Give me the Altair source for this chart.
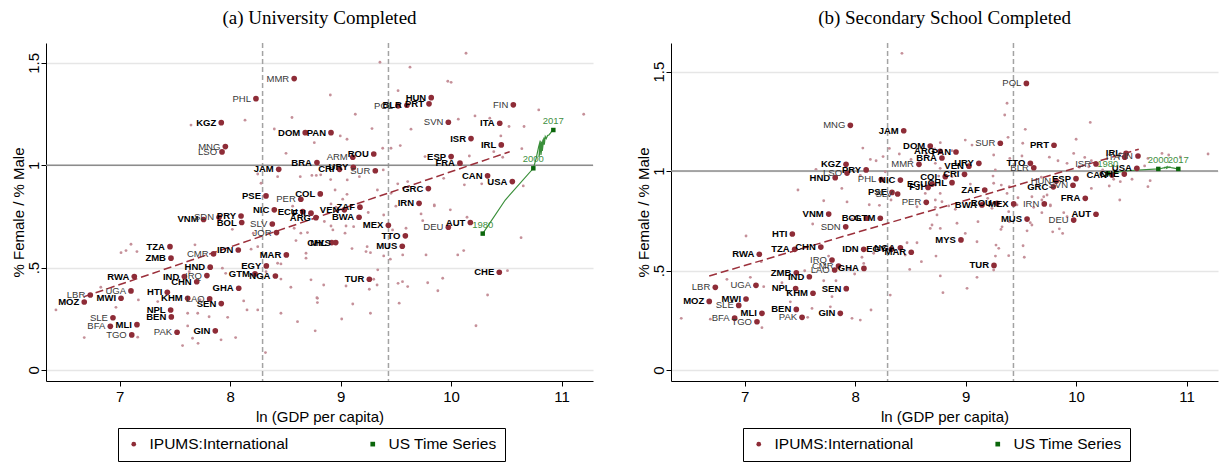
import altair as alt
import pandas as pd

# ---------------- shared values ----------------
x_ticks = [7, 8, 9, 10, 11]
y_ticks = [0, 0.5, 1, 1.5]
x_domain = [6.334, 11.284]
cutoffs = [8.294, 9.433]
parity = [1]
legend_names = ["IPUMS:International", "US Time Series"]
titles = ["(a) University Completed", "(b) Secondary School Completed"]

us_years = [1980, 1990, 2000, 2001, 2002, 2003, 2004, 2005, 2006, 2007, 2008,
            2009, 2010, 2011, 2012, 2013, 2014, 2015, 2016, 2017]
us_lngdp = [10.286, 10.49, 10.744, 10.768, 10.792, 10.807, 10.795, 10.819, 10.813,
            10.831, 10.825, 10.840, 10.843, 10.852, 10.861, 10.873, 10.885, 10.897,
            10.906, 10.925]
us_labeled_years = [1980, 2000, 2017]

# ---------------- panel (a): university ----------------
a_us_ratio = [0.666, 0.83, 0.985, 1.03, 1.09, 1.12, 1.04, 1.115, 1.05, 1.125, 1.07,
              1.135, 1.10, 1.14, 1.13, 1.145, 1.148, 1.155, 1.163, 1.172]
a_fit_x = [6.68, 10.53]
a_fit_y = [0.358, 1.066]
a_y_domain = [-0.054, 1.597]

a_countries = [
    ("MMR", 8.58, 1.423, "g"), ("PHL", 8.234, 1.325, "g"), ("KGZ", 7.92, 1.208, "b"),
    ("MNG", 7.957, 1.091, "g"), ("LSO", 7.927, 1.065, "g"), ("JAM", 8.44, 0.98, "b"),
    ("DOM", 8.68, 1.159, "b"), ("PAN", 8.913, 1.159, "b"), ("BRA", 8.786, 1.013, "b"),
    ("PSE", 8.325, 0.85, "b"), ("PER", 8.64, 0.834, "g"), ("COL", 8.816, 0.86, "b"),
    ("NIC", 8.40, 0.782, "b"), ("HUN", 9.82, 1.33, "b"), ("PRT", 9.80, 1.30, "b"),
    ("POL", 9.52, 1.29, "g"), ("BLR", 9.60, 1.293, "b"), ("FIN", 10.563, 1.295, "g"),
    ("SVN", 9.975, 1.21, "g"), ("ITA", 10.44, 1.205, "b"), ("ISR", 10.18, 1.13, "b"),
    ("IRL", 10.454, 1.099, "b"), ("ROU", 9.30, 1.055, "b"), ("ARM", 9.11, 1.039, "g"),
    ("URY", 9.115, 0.99, "b"), ("CRI", 8.99, 0.98, "b"), ("SUR", 9.314, 0.973, "g"),
    ("ESP", 10.0, 1.042, "b"), ("FRA", 10.08, 1.01, "b"), ("CAN", 10.33, 0.948, "b"),
    ("USA", 10.554, 0.92, "b"), ("GRC", 9.794, 0.886, "b"), ("IRN", 9.71, 0.814, "b"),
    ("ZAF", 9.175, 0.795, "b"), ("VEN", 9.034, 0.782, "b"), ("BWA", 9.167, 0.746, "b"),
    ("MEX", 9.432, 0.707, "b"), ("TTO", 9.586, 0.655, "b"), ("MUS", 9.558, 0.604, "b"),
    ("CHL", 8.92, 0.622, "b"), ("MYS", 8.956, 0.622, "b"), ("DEU", 9.975, 0.697, "g"),
    ("AUT", 10.174, 0.72, "b"), ("CHE", 10.436, 0.477, "b"), ("TUR", 9.26, 0.443, "b"),
    ("ECU", 8.657, 0.773, "b"), ("FJI", 8.732, 0.766, "b"), ("ARG", 8.777, 0.744, "b"),
    ("PRY", 8.099, 0.752, "b"), ("BOL", 8.105, 0.72, "b"), ("VNM", 7.76, 0.735, "b"),
    ("SDN", 7.90, 0.746, "g"), ("SLV", 8.382, 0.713, "g"), ("JOR", 8.42, 0.671, "g"),
    ("TZA", 7.456, 0.602, "b"), ("ZMB", 7.465, 0.546, "b"), ("CMR", 7.85, 0.567, "g"),
    ("IDN", 8.074, 0.586, "b"), ("MAR", 8.509, 0.562, "b"), ("EGY", 8.328, 0.508, "b"),
    ("HND", 7.82, 0.502, "b"), ("GTM", 8.225, 0.469, "b"), ("NGA", 8.41, 0.459, "b"),
    ("IND", 7.586, 0.456, "b"), ("IRQ", 7.79, 0.461, "g"), ("CHN", 7.698, 0.431, "b"),
    ("RWA", 7.133, 0.456, "b"), ("UGA", 7.103, 0.386, "g"), ("LBR", 6.735, 0.366, "g"),
    ("MOZ", 6.68, 0.332, "b"), ("MWI", 7.013, 0.35, "b"), ("HTI", 7.432, 0.379, "b"),
    ("KHM", 7.616, 0.35, "b"), ("LAO", 7.815, 0.347, "g"), ("GHA", 8.078, 0.399, "b"),
    ("SEN", 7.92, 0.324, "b"), ("NPL", 7.462, 0.293, "b"), ("BEN", 7.468, 0.259, "b"),
    ("SLE", 6.94, 0.255, "g"), ("BFA", 6.916, 0.213, "g"), ("MLI", 7.157, 0.221, "b"),
    ("TGO", 7.11, 0.171, "g"), ("PAK", 7.52, 0.184, "g"), ("GIN", 7.866, 0.191, "b"),
]

a_other = [
    (7.646, 1.196), (8.135, 1.22), (8.56, 1.233), (8.40, 1.177), (8.762, 1.11),
    (8.506, 1.058), (8.25, 0.957), (8.43, 0.944), (8.635, 0.944), (8.74, 0.95),
    (8.78, 0.95), (8.28, 0.912), (8.566, 0.80), (10.135, 1.547), (9.356, 1.503),
    (9.628, 1.479), (9.97, 1.41), (10.0, 1.405), (9.52, 1.364), (8.907, 1.343),
    (9.133, 1.249), (9.284, 1.179), (9.637, 1.176), (10.065, 1.225), (10.216, 1.241),
    (10.35, 1.23), (10.524, 1.189), (10.66, 1.189), (10.793, 1.27), (11.2, 1.249),
    (8.997, 1.143), (9.058, 1.127), (9.381, 1.083), (9.456, 1.083), (9.54, 1.096),
    (10.45, 1.143), (10.64, 1.081), (9.764, 1.042), (10.165, 1.045), (10.386, 1.066),
    (10.467, 1.039), (8.82, 0.953), (8.91, 0.93), (9.06, 0.928), (9.17, 0.944),
    (9.386, 0.977), (9.517, 0.909), (9.607, 0.92), (9.933, 0.936), (10.12, 0.904),
    (10.277, 0.909), (10.653, 0.899), (8.95, 0.879), (9.058, 0.858), (9.333, 0.879),
    (9.456, 0.863), (9.019, 0.834), (9.848, 0.806), (9.50, 0.80), (7.013, 0.573),
    (7.058, 0.583), (7.103, 0.614), (7.157, 0.578), (7.682, 0.611), (8.19, 0.59),
    (8.25, 0.602), (8.02, 0.687), (8.58, 0.692), (8.64, 0.668), (8.70, 0.671),
    (8.21, 0.668), (8.596, 0.632), (8.687, 0.57), (8.687, 0.546), (8.43, 0.521),
    (8.46, 0.518), (7.93, 0.497), (7.96, 0.472), (7.63, 0.48), (8.325, 0.48),
    (8.46, 0.444), (8.55, 0.404), (8.732, 0.44), (8.79, 0.35), (6.83, 0.404),
    (6.424, 0.293), (6.967, 0.306), (7.17, 0.342), (7.345, 0.334), (7.728, 0.342),
    (7.616, 0.277), (7.707, 0.277), (7.81, 0.26), (7.978, 0.257), (8.123, 0.337),
    (8.153, 0.293), (8.25, 0.293), (8.46, 0.277), (8.61, 0.236), (7.616, 0.215),
    (6.68, 0.158), (7.164, 0.16), (7.57, 0.119), (7.66, 0.155), (7.71, 0.13),
    (7.918, 0.147), (8.05, 0.158), (8.32, 0.085), (8.913, 0.811), (8.958, 0.795),
    (8.853, 0.725), (8.913, 0.703), (9.049, 0.703), (9.118, 0.70), (9.04, 0.668),
    (8.93, 0.684), (9.25, 0.769), (9.39, 0.757), (9.47, 0.684), (9.592, 0.692),
    (9.728, 0.762), (9.743, 0.729), (9.848, 0.801), (9.993, 0.782), (10.144, 0.746),
    (10.633, 0.646), (9.103, 0.593), (9.24, 0.602), (9.27, 0.573), (9.23, 0.578),
    (9.39, 0.557), (9.45, 0.541), (9.562, 0.562), (9.773, 0.562), (10.06, 0.562),
    (10.114, 0.583), (10.51, 0.485), (9.336, 0.489), (9.30, 0.443), (9.33, 0.415),
    (9.26, 0.394), (9.52, 0.423), (9.56, 0.431), (9.607, 0.407), (9.788, 0.426),
    (9.924, 0.448), (9.88, 0.387), (10.33, 0.366), (8.847, 0.415), (9.049, 0.41),
    (8.786, 0.353), (8.79, 0.329), (9.11, 0.322), (9.53, 0.326), (9.27, 0.277),
    (9.01, 0.249), (8.77, 0.191), (10.225, 0.216),
]

# ---------------- panel (b): secondary ----------------
b_us_ratio = [0.989, 1.003, 1.011, 1.013, 1.016, 1.02, 1.014, 1.021, 1.015, 1.022, 1.016,
              1.021, 1.018, 1.02, 1.017, 1.016, 1.015, 1.014, 1.012, 1.011]
b_fit_x = [6.68, 10.567]
b_fit_y = [0.473, 1.11]
b_y_domain = [-0.055, 1.644]

b_countries = [
    ("MNG", 7.957, 1.23, "g"), ("JAM", 8.44, 1.203, "b"), ("DOM", 8.68, 1.126, "b"),
    ("ARG", 8.77, 1.10, "b"), ("PAN", 8.913, 1.096, "b"), ("BRA", 8.786, 1.066, "b"),
    ("KGZ", 7.918, 1.034, "b"), ("LSO", 7.927, 0.99, "g"), ("PRY", 8.10, 1.006, "b"),
    ("HND", 7.82, 0.967, "b"), ("MMR", 8.578, 1.034, "g"), ("PHL", 8.237, 0.958, "g"),
    ("NIC", 8.41, 0.955, "b"), ("COL", 8.816, 0.972, "b"), ("ECU", 8.696, 0.935, "b"),
    ("CRI", 8.99, 0.984, "b"), ("FJI", 8.66, 0.918, "b"), ("CHL", 8.877, 0.942, "b"),
    ("PSE", 8.334, 0.893, "b"), ("SLV", 8.385, 0.885, "g"), ("PER", 8.644, 0.843, "g"),
    ("URY", 9.12, 1.039, "b"), ("VEN", 9.03, 1.025, "b"), ("SUR", 9.314, 1.14, "g"),
    ("POL", 9.55, 1.441, "g"), ("PRT", 9.80, 1.13, "b"), ("TTO", 9.586, 1.039, "b"),
    ("BLR", 9.617, 1.017, "g"), ("ISR", 10.18, 1.036, "g"), ("IRL", 10.452, 1.089, "b"),
    ("ITA", 10.44, 1.07, "g"), ("FIN", 10.56, 1.076, "g"), ("USA", 10.55, 1.014, "b"),
    ("CAN", 10.325, 0.98, "b"), ("CHE", 10.436, 0.985, "b"), ("ESP", 9.999, 0.962, "b"),
    ("HUN", 9.82, 0.95, "g"), ("GRC", 9.794, 0.921, "b"), ("SVN", 9.972, 0.929, "g"),
    ("FRA", 10.083, 0.863, "b"), ("IRN", 9.712, 0.835, "g"), ("MEX", 9.435, 0.835, "b"),
    ("ROU", 9.284, 0.838, "b"), ("BWA", 9.148, 0.83, "b"), ("ZAF", 9.173, 0.905, "b"),
    ("MUS", 9.556, 0.759, "b"), ("DEU", 9.978, 0.754, "g"), ("AUT", 10.18, 0.783, "b"),
    ("MYS", 8.958, 0.654, "b"), ("TUR", 9.257, 0.526, "b"), ("VNM", 7.761, 0.784, "b"),
    ("BOL", 8.105, 0.763, "b"), ("GTM", 8.228, 0.763, "b"), ("SDN", 7.915, 0.72, "g"),
    ("HTI", 7.432, 0.684, "b"), ("TZA", 7.453, 0.607, "b"), ("CHN", 7.69, 0.618, "b"),
    ("RWA", 7.133, 0.582, "b"), ("IDN", 8.078, 0.607, "b"), ("EGY", 8.328, 0.607, "b"),
    ("NGA", 8.41, 0.615, "b"), ("MAR", 8.508, 0.592, "b"), ("IRQ", 7.791, 0.553, "g"),
    ("CMR", 7.85, 0.523, "g"), ("LAO", 7.815, 0.503, "g"), ("GHA", 8.08, 0.511, "b"),
    ("ZMB", 7.468, 0.489, "b"), ("IND", 7.586, 0.469, "b"), ("LBR", 6.735, 0.416, "g"),
    ("UGA", 7.103, 0.426, "g"), ("NPL", 7.462, 0.41, "b"), ("KHM", 7.619, 0.386, "b"),
    ("SEN", 7.92, 0.409, "b"), ("MOZ", 6.68, 0.345, "b"), ("MWI", 7.013, 0.357, "b"),
    ("SLE", 6.947, 0.325, "g"), ("BEN", 7.468, 0.305, "b"), ("MLI", 7.157, 0.285, "b"),
    ("BFA", 6.91, 0.261, "g"), ("TGO", 7.112, 0.243, "g"), ("PAK", 7.52, 0.265, "g"),
    ("GIN", 7.866, 0.285, "b"),
]

b_other = [
    (8.424, 1.592), (8.07, 1.116), (8.31, 1.114), (8.40, 1.086), (8.138, 1.059),
    (8.19, 1.052), (8.253, 1.073), (8.506, 1.059), (8.642, 1.086), (7.646, 1.009),
    (8.047, 0.979), (8.273, 0.997), (7.483, 0.905), (7.88, 0.913), (7.716, 0.851),
    (7.927, 0.845), (8.128, 0.831), (8.22, 0.828), (8.325, 0.855), (8.635, 0.888),
    (8.56, 0.821), (8.771, 1.143), (8.726, 1.039), (8.77, 1.014), (8.77, 0.888),
    (9.375, 1.341), (9.354, 1.282), (9.54, 1.21), (10.128, 1.245), (9.384, 1.17),
    (9.517, 1.14), (10.0, 1.16), (8.997, 1.156), (9.058, 1.131), (8.877, 1.103),
    (8.72, 1.111), (9.254, 1.081), (9.40, 1.064), (9.51, 1.076), (9.758, 1.07),
    (9.836, 1.052), (10.114, 1.022), (9.269, 1.006), (9.248, 0.975), (8.877, 0.972),
    (8.757, 0.975), (8.726, 0.93), (9.043, 0.935), (9.097, 0.91), (9.254, 0.939),
    (9.323, 0.93), (9.395, 0.922), (9.474, 0.866), (9.655, 0.93), (9.737, 0.88),
    (9.69, 0.855), (9.24, 0.838), (9.2, 0.863), (8.786, 0.846), (8.726, 0.855),
    (10.395, 0.855), (10.65, 0.922), (10.67, 0.952), (10.506, 0.959), (10.34, 0.959),
    (10.536, 1.014), (10.62, 1.026), (10.65, 1.064), (10.777, 1.089), (10.838, 1.081),
    (10.943, 1.072), (11.194, 1.086), (9.978, 1.089), (10.078, 1.069), (9.918, 1.039),
    (10.138, 1.052), (10.03, 1.019), (10.24, 1.006), (10.4, 1.089), (10.4, 0.947),
    (10.3, 0.925), (10.138, 0.913), (9.685, 0.969), (9.767, 0.83), (9.707, 0.871),
    (9.6, 0.871), (9.616, 0.818), (9.69, 0.791), (9.888, 0.791), (9.918, 0.771),
    (9.375, 0.888), (9.465, 0.83), (8.726, 0.818), (8.847, 0.825), (8.907, 0.808),
    (9.239, 0.813), (9.39, 0.796), (9.767, 0.825), (8.741, 0.78), (8.922, 0.738),
    (9.112, 0.746), (8.771, 0.712), (8.997, 0.687), (9.33, 0.72), (9.32, 0.707),
    (9.395, 0.746), (9.6, 0.729), (9.585, 0.741), (9.556, 0.70), (9.788, 0.695),
    (9.848, 0.71), (9.878, 0.687), (9.103, 0.645), (9.275, 0.628), (9.3, 0.612),
    (9.52, 0.625), (8.732, 0.573), (9.27, 0.573), (9.39, 0.575), (9.531, 0.567),
    (9.254, 0.503), (8.771, 0.473), (9.103, 0.466), (8.795, 0.389), (9.013, 0.411),
    (7.013, 0.674), (7.616, 0.734), (7.972, 0.758), (7.151, 0.545), (7.173, 0.419),
    (6.84, 0.456), (7.052, 0.466), (7.338, 0.439), (7.544, 0.499), (7.76, 0.573),
    (7.827, 0.449), (7.716, 0.449), (7.951, 0.506), (8.062, 0.567), (8.078, 0.536),
    (7.996, 0.483), (8.168, 0.587), (8.25, 0.603), (8.47, 0.64), (8.56, 0.64),
    (8.454, 0.578), (8.6, 0.545), (8.68, 0.712), (8.696, 0.729), (8.494, 0.506),
    (8.318, 0.377), (8.144, 0.302), (7.791, 0.369), (7.776, 0.318), (7.972, 0.26),
    (8.047, 0.251), (7.61, 0.31), (7.571, 0.265), (7.414, 0.343), (6.427, 0.26),
    (6.69, 0.256), (7.157, 0.213),
]

# ---------------- styling ----------------
FONT = "Liberation Sans"
MAROON = "#8e2c37"
SMALL = "#c28a93"
FIT = "#9b2f3a"
GREEN_LINE = "#3a8f3a"
GREEN_SQ = "#0b660b"
GREEN_TXT = "#3f8f3f"
GREY_TXT = "#383838"


def panel(title, countries, others, fit_x, fit_y, us_ratio, y_domain):
    lab = pd.DataFrame(countries, columns=["code", "x", "y", "style"])
    lab["series"] = legend_names[0]
    sm = pd.DataFrame(others, columns=["x", "y"])
    fit = pd.DataFrame({"x": fit_x, "y": fit_y})
    us = pd.DataFrame({"year": us_years, "x": us_lngdp, "y": us_ratio})
    us["series"] = legend_names[1]
    us_pts = us[us["year"].isin(us_labeled_years)]

    xaxis = alt.Axis(values=x_ticks, format="d", title="ln (GDP per capita)", grid=False,
                     domainColor="black", tickColor="black", tickSize=5, labelFontSize=15,
                     titleFontSize=15, labelPadding=3, titlePadding=5)
    yaxis = alt.Axis(values=y_ticks, labelExpr="replace(format(datum.value, '~g'), '0.', '.')",
                     title="% Female / % Male", grid=True, gridColor="#e6e6e6", gridWidth=1.5,
                     domainColor="black", tickColor="black", tickSize=5, labelFontSize=15,
                     titleFontSize=15, labelAngle=270, labelAlign="center",
                     labelBaseline="bottom", labelPadding=0, titlePadding=0)
    xs = alt.Scale(domain=x_domain, nice=False, zero=False)
    ys = alt.Scale(domain=y_domain, nice=False, zero=False)
    X = alt.X("x:Q", scale=xs, axis=xaxis)
    Y = alt.Y("y:Q", scale=ys, axis=yaxis)

    legend = alt.Legend(title=None, orient="none", legendX=72, legendY=385,
                        direction="horizontal", columns=2, strokeColor="black",
                        fillColor="white", padding=8, labelFont=FONT, labelFontSize=15.5,
                        labelColor="black", symbolSize=22, labelOffset=8, columnPadding=76)
    color = alt.Color("series:N", scale=alt.Scale(domain=legend_names, range=[MAROON, GREEN_SQ]),
                      legend=legend)
    shape = alt.Shape("series:N", scale=alt.Scale(domain=legend_names, range=["circle", "square"]),
                      legend=legend)

    cut = alt.Chart(pd.DataFrame({"x": cutoffs})).mark_rule(
        color="#a3a3a3", strokeWidth=1.5, strokeDash=[5, 3]).encode(x=X)
    one = alt.Chart(pd.DataFrame({"y": parity})).mark_rule(
        color="#8c8c8c", strokeWidth=1.5).encode(y=Y)
    small = alt.Chart(sm).mark_circle(size=8, color=SMALL, opacity=0.95).encode(x=X, y=Y)
    fitline = alt.Chart(fit).mark_line(color=FIT, strokeWidth=1.5, strokeDash=[8, 4]).encode(x=X, y=Y)
    usline = alt.Chart(us).mark_line(color=GREEN_LINE, strokeWidth=1.2).encode(
        x=X, y=Y, order="year:O")
    dots = alt.Chart(lab).mark_point(filled=True, size=32, opacity=1).encode(
        x=X, y=Y, color=color, shape=shape)
    squares = alt.Chart(us_pts).mark_point(filled=True, size=20, opacity=1).encode(
        x=X, y=Y, color=color, shape=shape)
    bold = alt.Chart(lab[lab["style"] == "b"]).mark_text(
        align="right", baseline="middle", dx=-5, font=FONT, fontSize=9.5,
        fontWeight="bold", color="black").encode(x=X, y=Y, text="code:N")
    grey = alt.Chart(lab[lab["style"] == "g"]).mark_text(
        align="right", baseline="middle", dx=-5, font=FONT, fontSize=9.5,
        color=GREY_TXT).encode(x=X, y=Y, text="code:N")
    years = alt.Chart(us_pts).mark_text(
        align="center", baseline="bottom", dy=-4, font=FONT, fontSize=9.5,
        color=GREEN_TXT).encode(x=X, y=Y, text="year:N")

    return alt.layer(cut, one, small, fitline, usline, dots, squares, bold, grey, years).properties(
        width=547, height=338,
        title=alt.TitleParams(title, font="Liberation Serif", fontSize=19, fontWeight="normal",
                              anchor="middle", frame="group", offset=14, color="black"))


left = panel(titles[0], a_countries, a_other, a_fit_x, a_fit_y, a_us_ratio, a_y_domain)
right = panel(titles[1], b_countries, b_other, b_fit_x, b_fit_y, b_us_ratio, b_y_domain)

chart = alt.hconcat(left, right, spacing=42).resolve_scale(
    x="independent", y="independent", color="independent", shape="independent"
).properties(padding={"left": 3, "top": 1, "right": 0, "bottom": 0}).configure_view(
    stroke=None).configure_axis(
    labelFont=FONT, titleFont=FONT, labelColor="black", titleColor="black",
    titleFontWeight="normal")

chart.save("out.html", embed_options={"renderer": "svg", "actions": False})
